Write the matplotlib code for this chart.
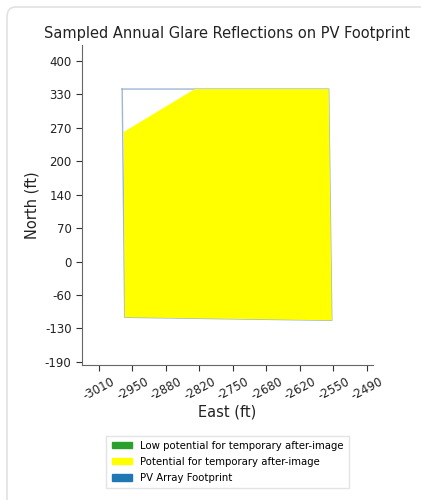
import numpy as np
import matplotlib
matplotlib.use("Agg")
import matplotlib.pyplot as plt
from matplotlib.patches import Patch, FancyBboxPatch

# PV footprint outline (east, north in ft)
footprint_x = [-2965, -2564, -2558, -2960, -2965]
footprint_y = [345, 345, -108, -102, 345]

# glare reflection region (potential for temporary after-image)
glare_x = [-2824, -2564, -2558, -2960, -2962]
glare_y = [345, 345, -108, -102, 261]

x_tick_labels = ["-3010", "-2950", "-2880", "-2820", "-2750", "-2680", "-2620", "-2550", "-2490"]
y_tick_labels = ["-190", "-130", "-60", "0", "70", "140", "200", "270", "330", "400"]

legend_labels = ["Low potential for temporary after-image",
                 "Potential for temporary after-image",
                 "PV Array Footprint"]
legend_colors = ["#2ca02c", "#ffff00", "#1f77b4"]

fig = plt.figure(figsize=(4.21, 5.0), dpi=100)

# light card border behind the chart
card = FancyBboxPatch((7 / 421, -0.1), 1.2, 1.1 - 7 / 500,
                      boxstyle="round,pad=0,rounding_size=0.02",
                      transform=fig.transFigure, facecolor="white",
                      edgecolor="#e2e2e2", linewidth=1.2, zorder=-10)
fig.patches.append(card)

ax = fig.add_axes([82 / 421, 1 - 365 / 500, (373 - 82) / 421, (365 - 45) / 500])
ax.set_facecolor("none")

ax.fill(glare_x, glare_y, color=legend_colors[1], linewidth=0, zorder=2)
ax.plot(footprint_x, footprint_y, color="#9fb6d6", linewidth=1.0, zorder=1)

ax.set_xlim(-3043, -2478)
ax.set_ylim(-195.5, 431.3)

ax.set_xticks(np.linspace(-3010, -2490, len(x_tick_labels)))
ax.set_xticklabels(x_tick_labels, rotation=28, fontsize=8.5)
ax.set_yticks(np.linspace(-189.5, 400, len(y_tick_labels)))
ax.set_yticklabels(y_tick_labels, fontsize=8.5)
ax.tick_params(length=4, width=0.8, color="#333333", labelcolor="#222222")

for side in ["top", "right"]:
    ax.spines[side].set_visible(False)
for side in ["left", "bottom"]:
    ax.spines[side].set_color("#666666")
    ax.spines[side].set_linewidth(0.8)

ax.set_title("Sampled Annual Glare Reflections on PV Footprint", fontsize=10.5,
             color="#222222", pad=5)
ax.set_xlabel("East (ft)", fontsize=10.5, color="#222222", labelpad=1)
ax.set_ylabel("North (ft)", fontsize=10.5, color="#222222")

handles = [Patch(facecolor=c, edgecolor=c, label=l) for c, l in zip(legend_colors, legend_labels)]
ax.legend(handles=handles, loc="upper center", bbox_to_anchor=(0.5, -0.205),
          fontsize=7.3, frameon=True, handlelength=2.0, handleheight=0.6,
          borderpad=0.5, labelspacing=0.6, fancybox=False, edgecolor="#dddddd")

fig.savefig("out.png", dpi=100)
